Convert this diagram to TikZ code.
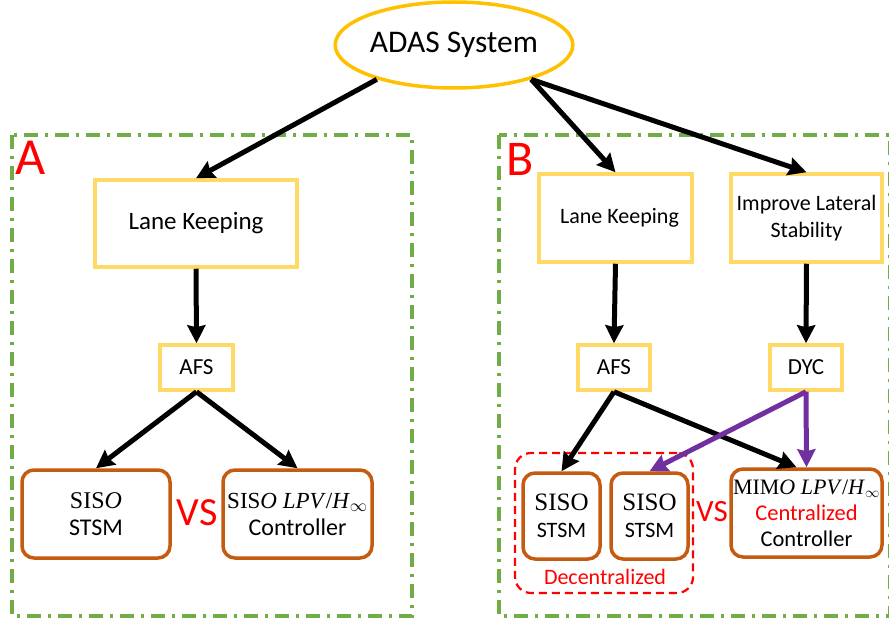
\documentclass[tikz,border=0pt]{standalone}
\usepackage{fontspec}
\setmainfont{Carlito}
\newfontfamily\serifmath{Liberation Serif}
\usetikzlibrary{shapes.geometric,arrows.meta}
\definecolor{ygold}{HTML}{FFC000}
\definecolor{ylight}{HTML}{FFD966}
\definecolor{gdash}{HTML}{70AD47}
\definecolor{orng}{HTML}{C55A11}
\definecolor{purp}{HTML}{7030A0}
\definecolor{redc}{HTML}{FF0000}
\tikzset{
  frame/.style={draw=gdash, line width=3.5pt, dash pattern=on 14pt off 7pt on 3pt off 7pt},
  ybox/.style={draw=ylight, line width=3.5pt, rectangle, inner sep=0pt, align=center},
  obox/.style={draw=orng, line width=3.5pt, rectangle, rounded corners=12pt, inner sep=0pt, align=center},
  arr/.style={line width=5pt, -{Stealth[length=18pt,width=18pt,inset=2pt]}},
  parr/.style={arr, draw=purp},
  lbl/.style={text=redc, inner sep=0pt},
}
\begin{document}
\begin{tikzpicture}[x=1pt,y=-1pt]
\useasboundingbox (0,0) rectangle (889,623);
% frames
\draw[frame] (12,135) rectangle (412,616);
\draw[frame] (499,135) rectangle (890,616);
\node[lbl, font=\fontsize{52}{52}\selectfont] (A) at (31,158) {A};
\node[lbl, font=\fontsize{50}{50}\selectfont] (B) at (520,159) {B};
% top
\node[ellipse, draw=ygold, line width=3.5pt, minimum width=202pt, minimum height=86pt, inner sep=0pt,
  font=\fontsize{31.5}{31.5}\selectfont] (adas) at (454,45) {ADAS System};
% A side
\node[ybox, minimum width=202pt, minimum height=87pt, font=\fontsize{25}{25}\selectfont] (lkA) at (196,223.5) {Lane Keeping};
\node[ybox, minimum width=73pt, minimum height=45pt, font=\fontsize{23}{23}\selectfont] (afsA) at (196.5,367.5) {AFS};
\node[obox, minimum width=148pt, minimum height=88pt, font=\fontsize{24}{27}\selectfont] (sisoA) at (96,514)
  {{\serifmath\fontsize{24}{24}\selectfont SIS\textit{O}}\\STSM};
\node[obox, minimum width=149pt, minimum height=88pt, font=\fontsize{24}{27}\selectfont] (ctrlA) at (297.5,514)
  {{\serifmath\fontsize{23}{23}\selectfont SIS\textit{O LPV}/\textit{H}$_{\infty}$}\\Controller};
\node[lbl, font=\fontsize{40}{40}\selectfont] (vsA) at (197,513) {VS};
% B side
\node[ybox, minimum width=153pt, minimum height=88pt, font=\fontsize{22}{22}\selectfont] (lkB) at (615.5,218) {\hspace*{8pt}Lane Keeping};
\node[ybox, minimum width=151pt, minimum height=88pt, font=\fontsize{22}{27}\selectfont] (ilsB) at (806.5,218) {Improve Lateral\\Stability};
\node[ybox, minimum width=72pt, minimum height=45pt, font=\fontsize{23}{23}\selectfont] (afsB) at (614,367.5) {AFS};
\node[ybox, minimum width=72pt, minimum height=45pt, font=\fontsize{23}{23}\selectfont] (dycB) at (806,367.5) {DYC};
\node[draw=redc, line width=2.2pt, dash pattern=on 8pt off 5pt, rectangle, rounded corners=16pt,
  minimum width=178pt, minimum height=140pt, inner sep=0pt] (dec) at (604,523) {};
\node[obox, minimum width=77pt, minimum height=86pt, font=\fontsize{22}{27}\selectfont] (siso1) at (561.5,516)
  {{\serifmath\fontsize{25}{25}\selectfont SISO}\\STSM};
\node[obox, minimum width=77pt, minimum height=86pt, font=\fontsize{22}{27}\selectfont] (siso2) at (649.5,516)
  {{\serifmath\fontsize{25}{25}\selectfont SISO}\\STSM};
\node[lbl, font=\fontsize{22}{22}\selectfont] (decl) at (605,577) {Decentralized};
\node[lbl, font=\fontsize{31}{31}\selectfont] (vsB) at (712,512) {VS};
\node[obox, minimum width=151pt, minimum height=88pt, font=\fontsize{22.5}{26}\selectfont] (mimo) at (806.5,513)
  {{\serifmath\fontsize{22}{22}\selectfont MIM\textit{O LPV}/\textit{H}$_{\infty}$}\\\textcolor{redc}{Centralized}\\Controller};
% arrows
\draw[arr] (adas.204) -- (lkA.north);
\draw[arr] (adas.336) -- (lkB.north);
\draw[arr] (adas.336) -- (ilsB.north);
\draw[arr] (lkA.south) -- (afsA.north);
\draw[arr] (afsA.south) -- (sisoA.north);
\draw[arr] (afsA.south) -- (ctrlA.north);
\draw[arr] (lkB.south) -- (afsB.north);
\draw[arr] (ilsB.south) -- (dycB.north);
\draw[arr] (afsB.south) -- (siso1.north);
\draw[arr] (afsB.south) -- ([xshift=-10pt]mimo.north);
\draw[parr] (dycB.south) -- (siso2.north);
\draw[parr] (dycB.south) -- (mimo.north);
\end{tikzpicture}
\end{document}
